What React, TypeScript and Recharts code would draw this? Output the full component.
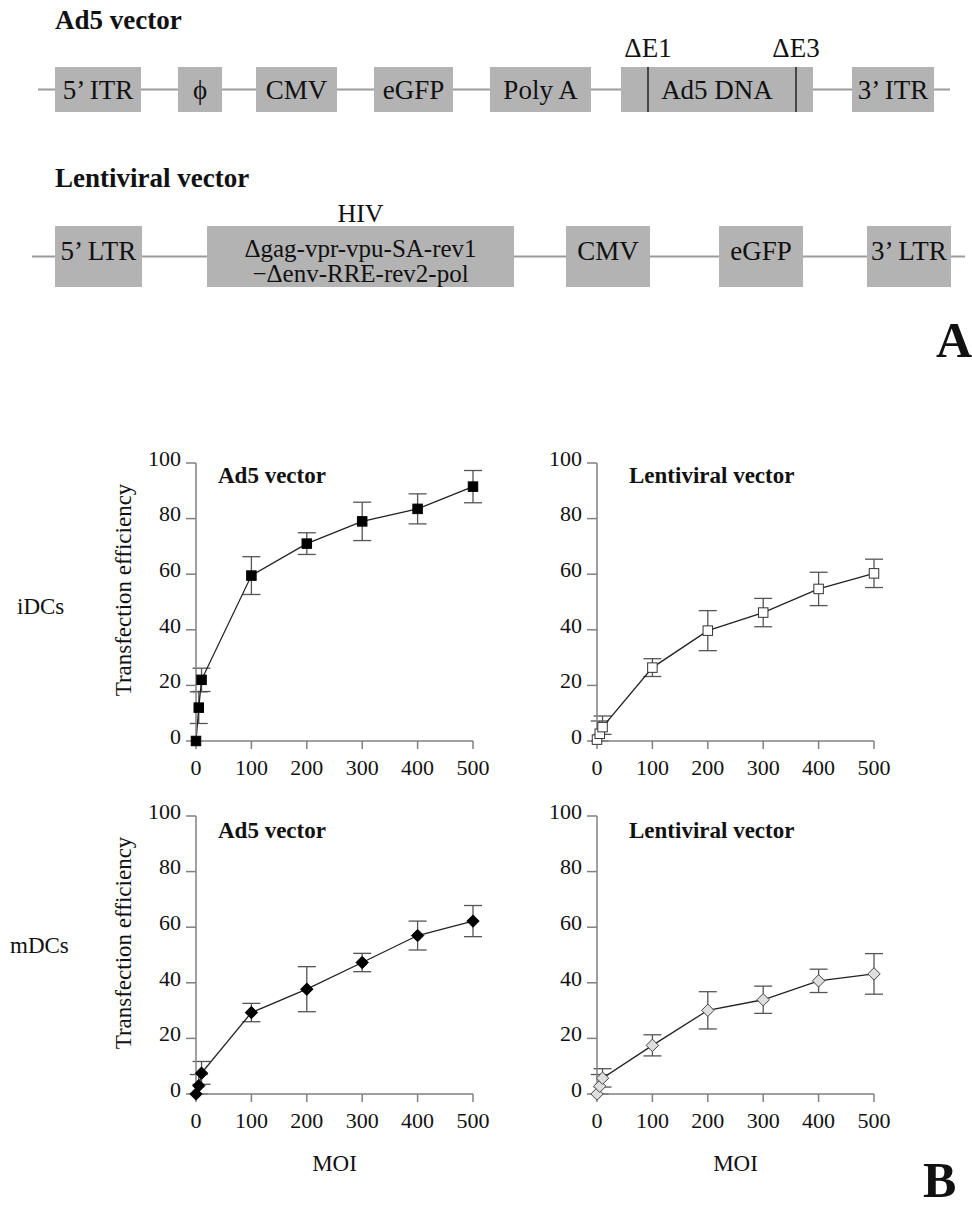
import React from 'react';
import {
  ComposedChart,
  Line,
  XAxis,
  YAxis,
  ErrorBar,
  ReferenceArea,
  ReferenceLine,
} from 'recharts';

const SERIF = '"Liberation Serif", "Times New Roman", Times, serif';
const INK = '#111';
const AXIS = '#808080';
const BOX = '#b3b3b3';
const WIRE = '#9c9c9c';

// ---- A: vector maps (positions along the drawn strip, 0..972)
const ad5Parts = ['5\u2019 ITR', '\u03d5', 'CMV', 'eGFP', 'Poly A', 'Ad5 DNA', '3\u2019 ITR'];
const ad5From = [55, 178, 256, 374, 490, 621, 852];
const ad5To = [141, 222, 337, 453, 591, 813, 934];
const ad5Cuts = ['\u0394E1', '\u0394E3'];
const ad5CutAt = [648, 796];
const ad5Ends = [38, 950];

const lentiParts = ['5\u2019 LTR', '\u0394gag-vpr-vpu-SA-rev1|\u2212\u0394env-RRE-rev2-pol', 'CMV', 'eGFP', '3\u2019 LTR'];
const lentiCaptions = ['', 'HIV', '', '', ''];
const lentiFrom = [55, 207, 566, 719, 867];
const lentiTo = [142, 514, 650, 803, 951];
const lentiEnds = [32, 965];

// ---- B: transfection efficiency vs MOI (mean, error as +/- or [below, above])
const moi = [0, 5, 10, 100, 200, 300, 400, 500];
const ad5Idc = [0, 12, 22, 59.5, 71, 79, 83.5, 91.5];
const ad5IdcErr = [0, 5.7, 4.2, 6.8, 3.9, 6.9, 5.4, 5.8];
const lentiIdc = [0.5, 2.6, 5, 26.4, 39.7, 46.2, 54.7, 60.3];
const lentiIdcErr = [0, [2.6, 4.6], [2.6, 4], 3.2, 7.2, 5.1, 6, 5.1];
const ad5Mdc = [0, 3, 7.5, 29.3, 37.7, 47.3, 57, 62.2];
const ad5MdcErr = [0, [3, 4], [4, 4.2], 3.3, 8.1, 3.3, 5.2, 5.6];
const lentiMdc = [0, 2.8, 5.7, 17.5, 30.1, 33.9, 40.7, 43.2];
const lentiMdcErr = [0, [2.8, 4.2], [3.2, 3.4], 3.8, 6.7, 4.9, 4.2, 7.3];

const xTicks = [0, 100, 200, 300, 400, 500];
const yTicks = [0, 20, 40, 60, 80, 100];

function Tag({ x, cy, size, bold, children }: any) {
  return (
    <div
      style={{
        position: 'absolute',
        left: x,
        top: cy - size / 2,
        fontFamily: SERIF,
        fontSize: size,
        fontWeight: bold ? 700 : 400,
        lineHeight: 1,
        color: INK,
        whiteSpace: 'nowrap',
      }}
    >
      {children}
    </div>
  );
}

// backbone drawn only between the boxes
function wirePoints(ends: number[], from: number[], to: number[]) {
  const pts: { x: number; y: number | null }[] = [{ x: ends[0], y: 0.5 }];
  from.forEach((f, i) => {
    pts.push({ x: f, y: 0.5 });
    pts.push({ x: (f + to[i]) / 2, y: null });
    pts.push({ x: to[i], y: 0.5 });
  });
  pts.push({ x: ends[1], y: 0.5 });
  return pts;
}

const partLabel = (text: string, shift: number, caption?: string) => (props: any) => {
  const vb = props.viewBox;
  if (!vb) return null;
  const cx = vb.x + vb.width / 2;
  const cy = vb.y + vb.height / 2;
  const lines = text.split('|');
  const multi = lines.length > 1;
  const lh = 25;
  const size = multi ? 25 : 27;
  const base = multi ? cy + 4 : cy + shift;
  return (
    <g>
      {caption ? (
        <text x={cx} y={vb.y - 4} textAnchor="middle" fontFamily={SERIF} fontSize={26} fill={INK}>
          {caption}
        </text>
      ) : null}
      <text textAnchor="middle" fontFamily={SERIF} fontSize={size} fill={INK}>
        {lines.map((l, i) => (
          <tspan key={i} x={cx} y={base + (i - (lines.length - 1) / 2) * lh} dy="0.35em">
            {l}
          </tspan>
        ))}
      </text>
    </g>
  );
};

function Construct({ top, height, boxTop, boxBottom, textShift, parts, captions, from, to, ends, cuts, cutAt }: any) {
  const wire = wirePoints(ends, from, to);
  return (
    <div style={{ position: 'absolute', left: 0, top }}>
      <ComposedChart
        width={972}
        height={height}
        data={wire}
        margin={{ top: boxTop - top, right: 0, bottom: top + height - boxBottom, left: 0 }}
      >
        <XAxis type="number" dataKey="x" domain={[0, 972]} hide />
        <YAxis type="number" domain={[0, 1]} hide />
        <Line
          dataKey="y"
          stroke={WIRE}
          strokeWidth={2.2}
          dot={false}
          connectNulls={false}
          isAnimationActive={false}
        />
        {parts.map((p: string, i: number) => (
          <ReferenceArea
            key={p}
            x1={from[i]}
            x2={to[i]}
            y1={0}
            y2={1}
            fill={BOX}
            fillOpacity={1}
            stroke="none"
            label={partLabel(p, textShift, captions ? captions[i] : undefined)}
          />
        ))}
        {(cuts || []).map((c: string, i: number) => (
          <ReferenceLine
            key={c}
            x={cutAt[i]}
            stroke="#222"
            strokeWidth={1.5}
            label={{ value: c, position: 'top', offset: 10, fontFamily: SERIF, fontSize: 27, fill: INK }}
          />
        ))}
      </ComposedChart>
    </div>
  );
}

type Marker = 'square' | 'openSquare' | 'diamond' | 'openDiamond';

const markerDot = (kind: Marker) => (p: any) => {
  const { cx, cy, index } = p;
  if (cx == null || cy == null) return <g key={index} />;
  if (kind === 'square' || kind === 'openSquare') {
    const open = kind === 'openSquare';
    return (
      <rect
        key={index}
        x={cx - 4.75}
        y={cy - 4.75}
        width={9.5}
        height={9.5}
        fill={open ? '#fff' : '#000'}
        stroke={open ? '#333' : '#000'}
        strokeWidth={1}
      />
    );
  }
  const open = kind === 'openDiamond';
  const r = 6.2;
  return (
    <polygon
      key={index}
      points={`${cx},${cy - r} ${cx + r},${cy} ${cx},${cy + r} ${cx - r},${cy}`}
      fill={open ? '#dedede' : '#000'}
      stroke={open ? '#444' : '#000'}
      strokeWidth={1}
    />
  );
};

const xTick = (p: any) => (
  <text x={p.x} y={p.y} dy="0.71em" textAnchor="middle" fontFamily={SERIF} fontSize={22} fill={INK}>
    {p.payload.value}
  </text>
);

const yTick = (p: any) => (
  <text x={p.x} y={p.y - 5} dy="0.35em" textAnchor="end" fontFamily={SERIF} fontSize={22} fill={INK}>
    {p.payload.value}
  </text>
);

const yTitle = (p: any) => {
  const vb = p.viewBox;
  if (!vb) return null;
  const cx = vb.x + 37;
  const cy = vb.y + vb.height / 2 - 12;
  return (
    <text
      x={cx}
      y={cy}
      dy="0.35em"
      transform={`rotate(-90 ${cx} ${cy})`}
      textAnchor="middle"
      fontFamily={SERIF}
      fontSize={23}
      fill={INK}
    >
      Transfection efficiency
    </text>
  );
};

const xTitle = (p: any) => {
  const vb = p.viewBox;
  if (!vb) return null;
  return (
    <text
      x={vb.x + vb.width / 2}
      y={vb.y + 69}
      dy="0.35em"
      textAnchor="middle"
      fontFamily={SERIF}
      fontSize={23}
      fill={INK}
    >
      MOI
    </text>
  );
};

const PLOT_W = 277;
const PLOT_H = 278;
const Y_W = 110;
const M_TOP = 40;
const M_RIGHT = 40;

function Panel({ left, top, values, errors, marker, showY, showX }: any) {
  const data = moi.map((m, i) => ({ moi: m, eff: values[i], err: errors[i] }));
  const xh = showX ? 95 : 45;
  return (
    <div style={{ position: 'absolute', left: left - Y_W, top: top - M_TOP }}>
      <ComposedChart
        width={Y_W + PLOT_W + M_RIGHT}
        height={M_TOP + PLOT_H + xh}
        data={data}
        margin={{ top: M_TOP, right: M_RIGHT, bottom: 0, left: 0 }}
      >
        <XAxis
          dataKey="moi"
          type="number"
          domain={[0, 500]}
          ticks={xTicks}
          interval={0}
          height={xh}
          tickSize={8}
          tickMargin={10}
          axisLine={{ stroke: AXIS, strokeWidth: 1.5 }}
          tickLine={{ stroke: AXIS, strokeWidth: 1.5 }}
          tick={xTick}
          label={showX ? xTitle : undefined}
        />
        <YAxis
          type="number"
          domain={[0, 100]}
          ticks={yTicks}
          interval={0}
          width={Y_W}
          tickSize={10}
          tickMargin={5}
          axisLine={{ stroke: AXIS, strokeWidth: 1.5 }}
          tickLine={{ stroke: AXIS, strokeWidth: 1.5 }}
          tick={yTick}
          label={showY ? yTitle : undefined}
        />
        <Line
          dataKey="eff"
          stroke="#222"
          strokeWidth={1.3}
          dot={markerDot(marker)}
          activeDot={false}
          isAnimationActive={false}
        >
          <ErrorBar dataKey="err" direction="y" width={9} stroke="#555" strokeWidth={1.3} isAnimationActive={false} />
        </Line>
      </ComposedChart>
    </div>
  );
}

export default function App() {
  return (
    <div style={{ position: 'relative', width: 972, height: 1211, background: '#fff', overflow: 'hidden' }}>
      <style>{'body{margin:0;}'}</style>

      <Tag x={55} cy={20} size={27} bold>Ad5 vector</Tag>
      <Construct
        top={0}
        height={130}
        boxTop={67}
        boxBottom={112}
        textShift={0}
        parts={ad5Parts}
        from={ad5From}
        to={ad5To}
        ends={ad5Ends}
        cuts={ad5Cuts}
        cutAt={ad5CutAt}
      />

      <Tag x={55} cy={178} size={27} bold>Lentiviral vector</Tag>
      <Construct
        top={150}
        height={160}
        boxTop={226}
        boxBottom={287}
        textShift={-6}
        parts={lentiParts}
        captions={lentiCaptions}
        from={lentiFrom}
        to={lentiTo}
        ends={lentiEnds}
      />

      <Tag x={936} cy={340} size={50} bold>A</Tag>

      <Tag x={17} cy={606} size={23}>iDCs</Tag>
      <Tag x={10} cy={945} size={23}>mDCs</Tag>

      <Panel left={196} top={463} values={ad5Idc} errors={ad5IdcErr} marker="square" showY />
      <Panel left={597} top={463} values={lentiIdc} errors={lentiIdcErr} marker="openSquare" />
      <Panel left={196} top={816} values={ad5Mdc} errors={ad5MdcErr} marker="diamond" showY showX />
      <Panel left={597} top={816} values={lentiMdc} errors={lentiMdcErr} marker="openDiamond" showX />

      <Tag x={218} cy={475} size={23} bold>Ad5 vector</Tag>
      <Tag x={629} cy={475} size={23} bold>Lentiviral vector</Tag>
      <Tag x={218} cy={830} size={23} bold>Ad5 vector</Tag>
      <Tag x={629} cy={830} size={23} bold>Lentiviral vector</Tag>

      <Tag x={923} cy={1180} size={50} bold>B</Tag>
    </div>
  );
}
